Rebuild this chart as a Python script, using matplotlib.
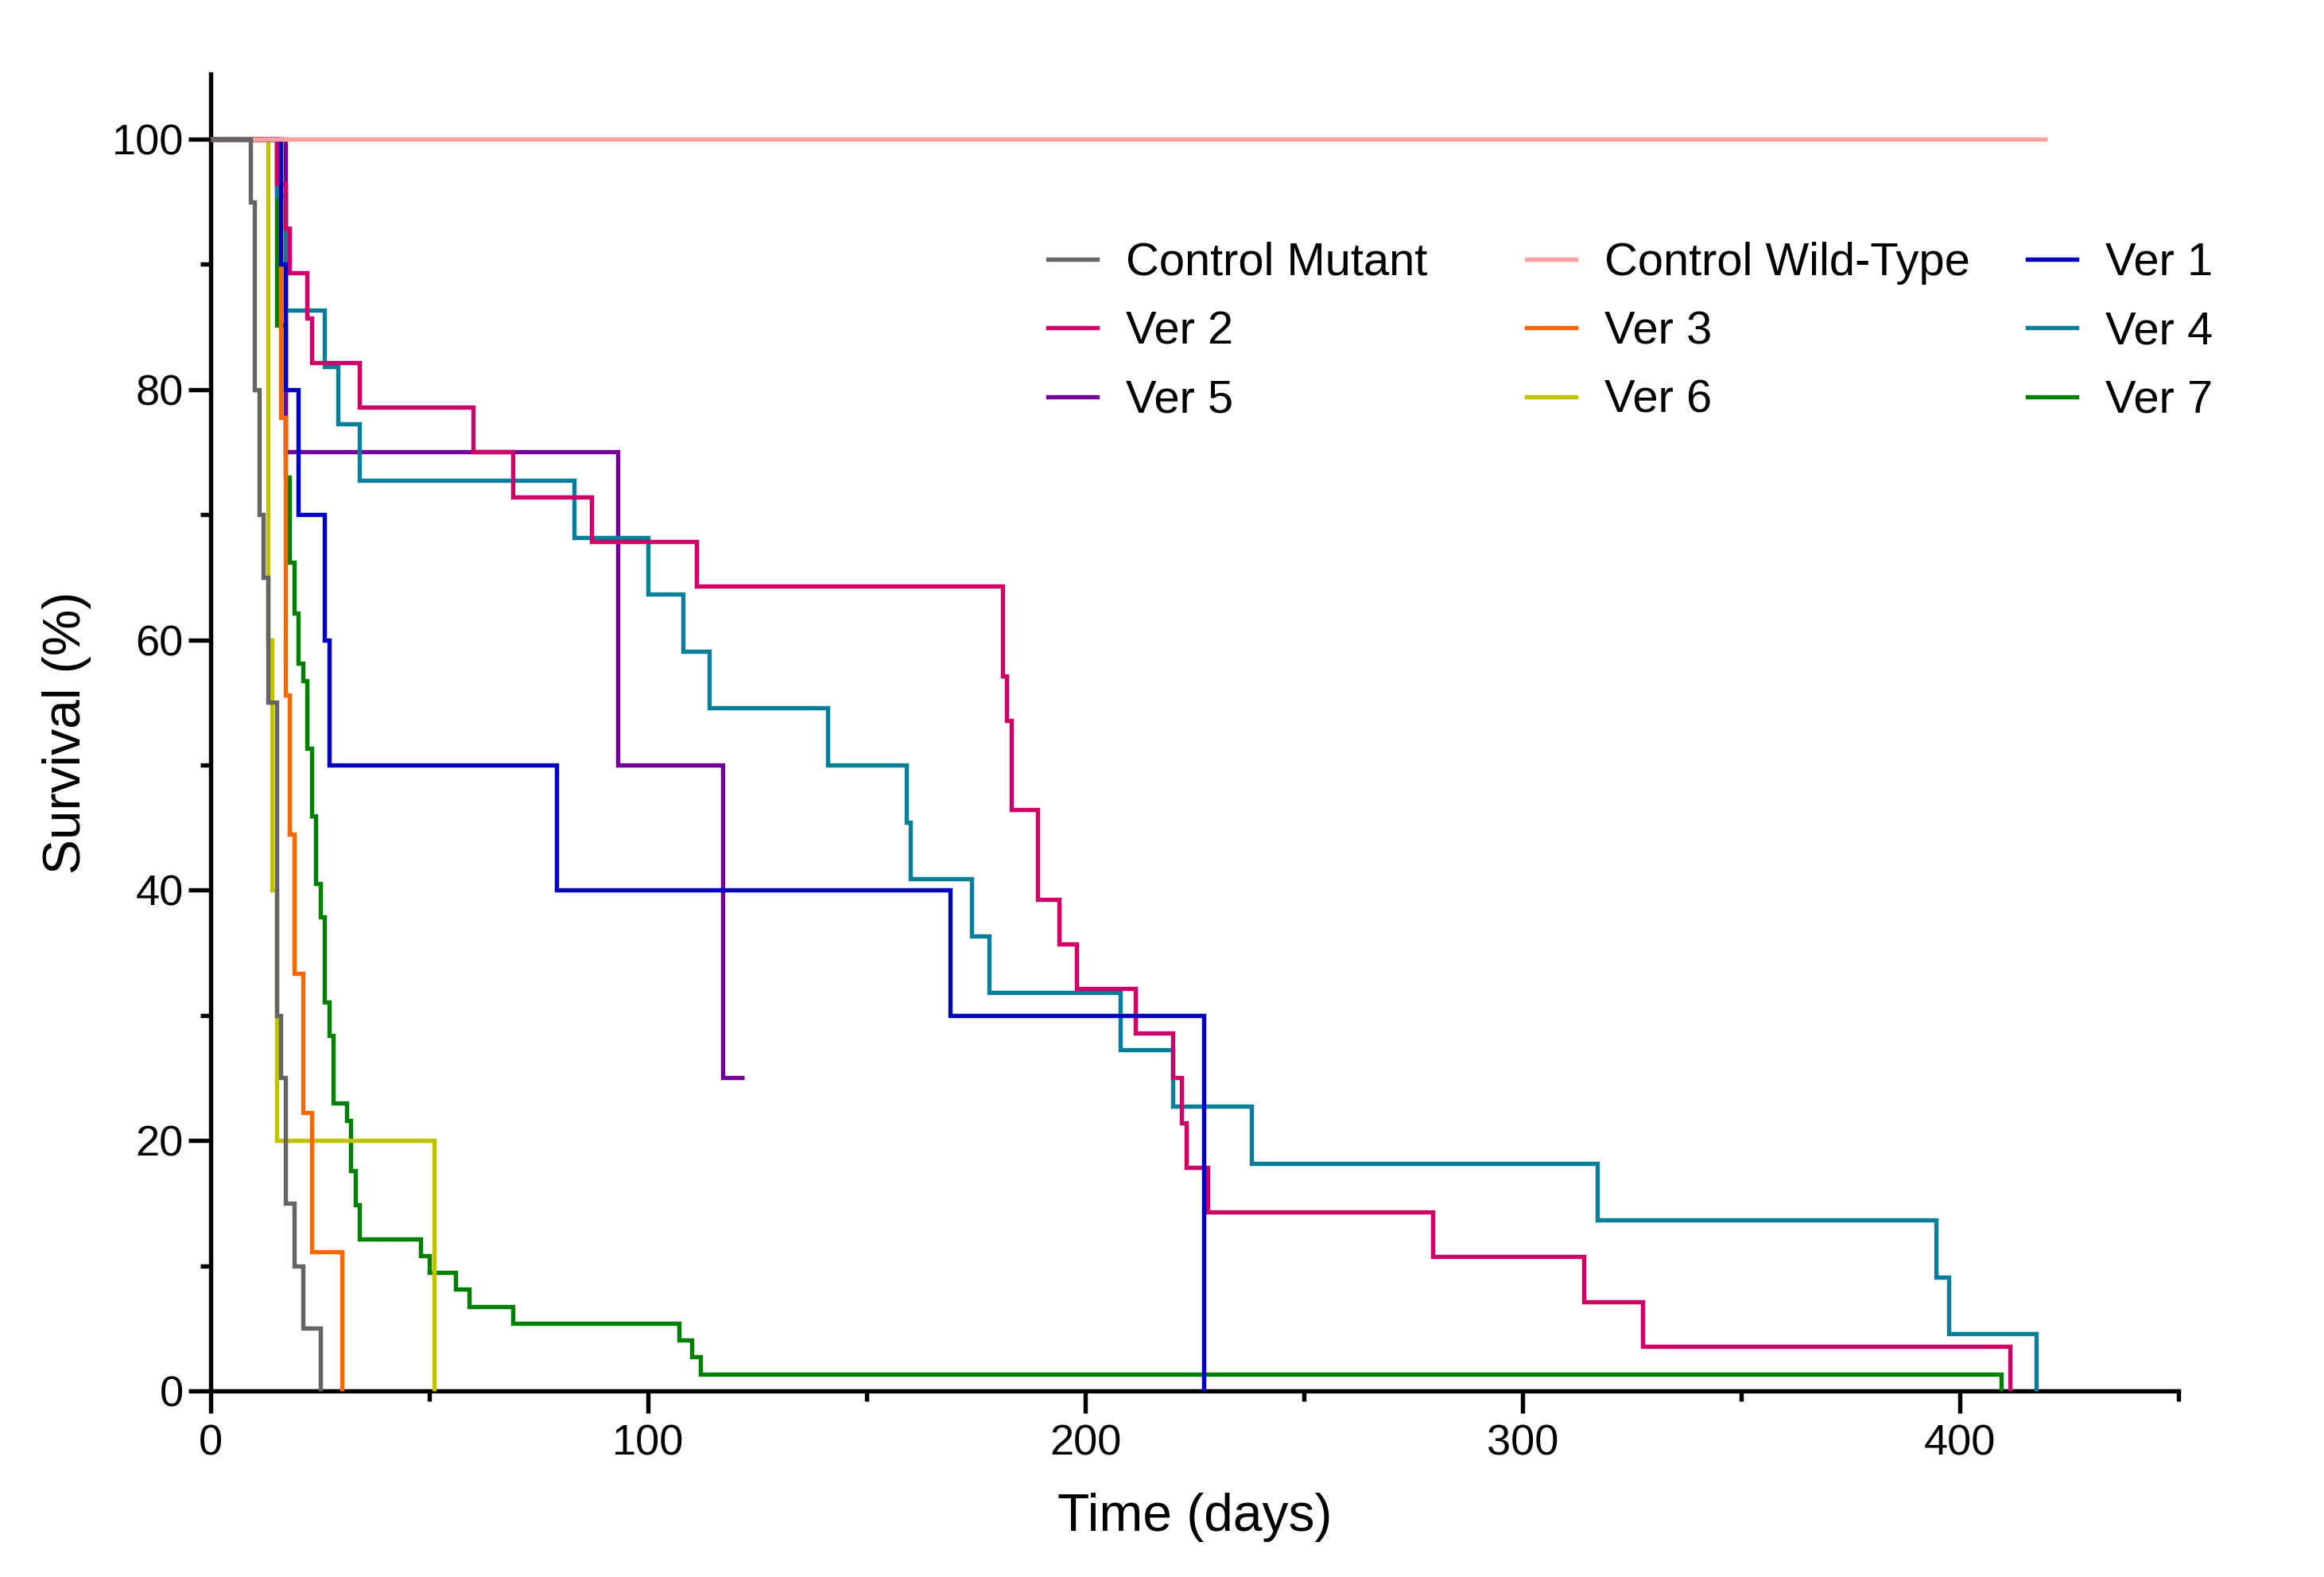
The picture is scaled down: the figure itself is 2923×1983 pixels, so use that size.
import matplotlib
matplotlib.use("Agg")
import matplotlib.pyplot as plt
from matplotlib.ticker import MultipleLocator
from matplotlib.lines import Line2D

plt.rcParams['font.family'] = ['Liberation Sans', 'DejaVu Sans']

# ---- data (time in days, survival in %) ----
labels = ["Control Mutant", "Control Wild-Type", "Ver 1", "Ver 2", "Ver 3",
          "Ver 4", "Ver 5", "Ver 6", "Ver 7"]
colors = ["#646464", "#FFA0A0", "#0000C0", "#CC0066", "#FF6600",
          "#087F9A", "#750099", "#C2C200", "#007F00"]

cm_t = [0, 9, 10, 11, 12, 13, 15, 16, 17, 19, 21, 25]
cm_s = [100, 95, 80, 70, 65, 55, 30, 25, 15, 10, 5, 0]

wt_t = [0, 420]
wt_s = [100, 100]

v1_t = [0, 16, 17, 20, 26, 27, 79, 169, 227]
v1_s = [100, 90, 80, 70, 60, 50, 40, 30, 0]

v2_t = [0, 15, 17, 18, 22, 23, 34, 60, 69, 87, 111, 181, 182, 183, 189, 194,
        198, 211.5, 220, 222, 223, 228, 279.5, 314, 327.5, 411.5]
v2_s = [100, 96.43, 92.86, 89.29, 85.71, 82.14, 78.57, 75.0, 71.43, 67.86,
        64.29, 57.14, 53.57, 46.43, 39.29, 35.71, 32.14, 28.57, 25.0, 21.43,
        17.86, 14.29, 10.71, 7.14, 3.57, 0]

v3_t = [0, 16, 17, 18, 19, 21, 23, 30]
v3_s = [100, 77.78, 55.56, 44.44, 33.33, 22.22, 11.11, 0]

v4_t = [0, 15, 17, 26, 29, 34, 83, 100, 108, 114, 141, 159, 160, 174, 178,
        208, 220, 238, 317, 394.5, 397.5, 417.5]
v4_s = [100, 95.45, 86.36, 81.82, 77.27, 72.73, 68.18, 63.64, 59.09, 54.55,
        50.0, 45.45, 40.91, 36.36, 31.82, 27.27, 22.73, 18.18, 13.64, 9.09,
        4.55, 0]

v5_t = [0, 17, 93, 117, 122]
v5_s = [100, 75, 50, 25, 25]

v6_t = [0, 13, 14, 15, 51]
v6_s = [100, 60, 40, 20, 0]

v7_t = [0, 15, 17, 18, 19, 20, 21, 22, 23, 24, 25, 26, 27, 28, 31, 32, 33,
        34, 48, 50, 56, 59, 69, 107, 110, 112, 409.5]
v7_s = [100, 85.14, 72.97, 66.22, 62.16, 58.11, 56.76, 51.35, 45.95, 40.54,
        37.84, 31.08, 28.38, 22.97, 21.62, 17.57, 14.86, 12.16, 10.81, 9.46,
        8.11, 6.76, 5.41, 4.05, 2.70, 1.35, 0]

series = [(cm_t, cm_s), (wt_t, wt_s), (v1_t, v1_s), (v2_t, v2_s), (v3_t, v3_s),
          (v4_t, v4_s), (v5_t, v5_s), (v6_t, v6_s), (v7_t, v7_s)]

# ---- figure ----
W, H = 2923, 1983
fig = plt.figure(figsize=(W / 300, H / 300), dpi=300)
left, right, bottom, top = 265, 2740, 1749, 93
ax = fig.add_axes([left / W, 1 - bottom / H, (right - left) / W, (bottom - top) / H])

lw = 1.3
handles = {}
n = len(series)
for i in range(n - 1, -1, -1):
    t, s = series[i]
    ln, = ax.step(t, s, where='post', color=colors[i], lw=lw,
                  solid_joinstyle='miter', solid_capstyle='butt',
                  zorder=2 + (n - i), label=labels[i], clip_on=False)
    handles[labels[i]] = ln

ax.set_xlim(0, 450)
ax.set_ylim(0, 105.2)

for sp in ['top', 'right']:
    ax.spines[sp].set_visible(False)
for sp in ['left', 'bottom']:
    ax.spines[sp].set_linewidth(1.3)

ax.xaxis.set_major_locator(MultipleLocator(100))
ax.xaxis.set_minor_locator(MultipleLocator(50))
ax.yaxis.set_major_locator(MultipleLocator(20))
ax.yaxis.set_minor_locator(MultipleLocator(10))
ax.tick_params(which='major', length=6.7, width=1.3, labelsize=13, color='black')
ax.tick_params(which='minor', length=3.2, width=1.3)
ax.tick_params(axis='y', which='major', pad=1.5)
ax.tick_params(axis='x', which='major', pad=3.3)

ax.set_xlabel("Time (days)", fontsize=15.8)
ax.set_ylabel("Survival (%)", fontsize=15.8)
ax.xaxis.set_label_coords(0.5, -0.0775)
ax.yaxis.set_label_coords(-0.0605, 0.5)

# ---- legend: three columns placed like the reference ----
cols = [["Control Mutant", "Ver 2", "Ver 5"],
        ["Control Wild-Type", "Ver 3", "Ver 6"],
        ["Ver 1", "Ver 4", "Ver 7"]]
col_x = [1318, 1920, 2550]
for xs, names in zip(col_x, cols):
    hs = [Line2D([], [], color=handles[nm].get_color(), lw=lw) for nm in names]
    fig.legend(hs, names, loc='upper left',
               bbox_to_anchor=(xs / W, 1 - 304 / H),
               frameon=False, fontsize=13.9, borderpad=0, borderaxespad=0,
               handlelength=1.07, handletextpad=0.63, labelspacing=0.56)

fig.savefig("out.png", dpi=300)
